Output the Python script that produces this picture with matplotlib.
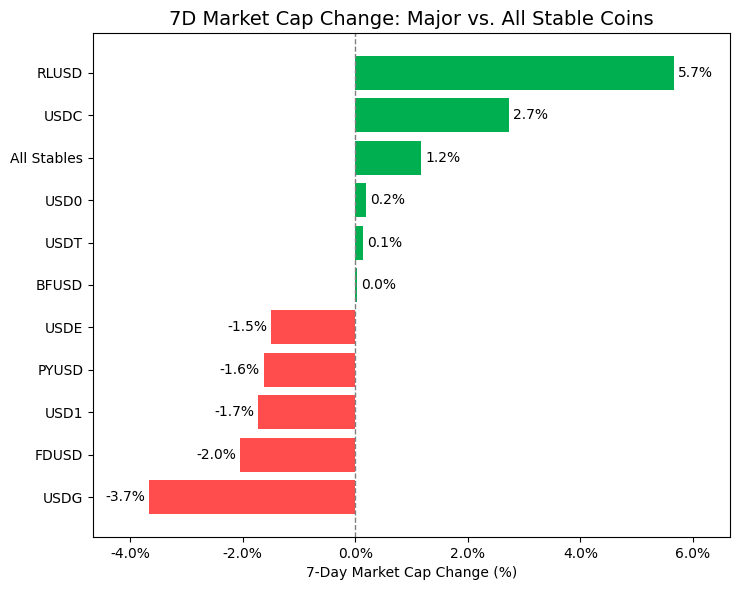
import matplotlib
matplotlib.use("Agg")
import matplotlib.pyplot as plt
from matplotlib.ticker import FuncFormatter

coins = ["USDG", "FDUSD", "USD1", "PYUSD", "USDE", "BFUSD", "USDT", "USD0", "All Stables", "USDC", "RLUSD"]
changes = [-3.66, -2.04, -1.72, -1.63, -1.49, 0.03, 0.14, 0.19, 1.17, 2.73, 5.66]

colors = ["#00b050" if v >= 0 else "#ff4c4c" for v in changes]

fig, ax = plt.subplots(figsize=(7.4, 5.9), dpi=100)
bars = ax.barh(coins, changes, color=colors)
ax.axvline(0, color="grey", linestyle="--", linewidth=1)

for bar, v in zip(bars, changes):
    y = bar.get_y() + bar.get_height() / 2
    if v >= 0:
        ax.text(v + 0.07, y, f"{v:.1f}%", va="center", ha="left", fontsize=10)
    else:
        ax.text(v - 0.07, y, f"{v:.1f}%", va="center", ha="right", fontsize=10)

ax.set_xlim(min(changes) - 1, max(changes) + 1)
ax.xaxis.set_major_formatter(FuncFormatter(lambda x, p: f"{x:.1f}%"))
ax.set_xlabel("7-Day Market Cap Change (%)")
ax.set_title("7D Market Cap Change: Major vs. All Stable Coins", fontsize=14)

plt.subplots_adjust(left=0.1257, right=0.9865, top=0.944, bottom=0.09)
plt.savefig("out.png")
